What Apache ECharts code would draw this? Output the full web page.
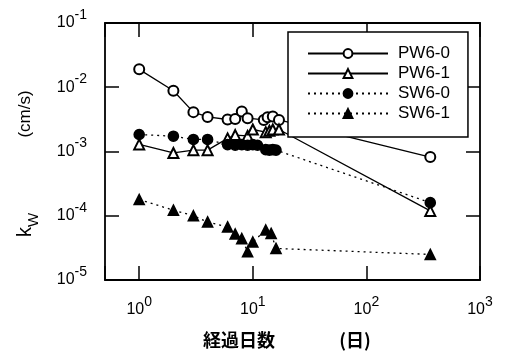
<!DOCTYPE html>
<html>
<head>
<meta charset="utf-8">
<script src="https://cdn.jsdelivr.net/npm/echarts@6/dist/echarts.min.js"></script>
<style>
  html, body { margin: 0; padding: 0; background: #fff; }
  #chart { width: 505px; height: 355px; }
</style>
</head>
<body>
<div id="chart"></div>
<script>
// Elapsed days and permeability coefficient kw (cm/s) for each specimen
const daysPW60 = [1, 2, 3, 4, 6, 7, 8, 9, 12.5, 13.5, 15, 17, 365];
const kwPW60   = [0.019, 0.0088, 0.0041, 0.00345, 0.00315, 0.0032, 0.0042, 0.0033, 0.0031, 0.0034, 0.0035, 0.0031, 0.00082];

const daysPW61 = [1, 2, 3, 4, 6, 7, 9, 10, 13, 14, 15, 17, 365];
const kwPW61   = [0.00129, 0.00095, 0.00105, 0.00105, 0.0016, 0.0018, 0.00175, 0.0022, 0.002, 0.0021, 0.0022, 0.0022, 0.000119];

const daysSW60 = [1, 2, 3, 4, 6, 7, 8, 9, 10, 11, 13, 14, 15, 16, 365];
const kwSW60   = [0.00184, 0.00173, 0.00154, 0.00154, 0.00128, 0.00125, 0.00128, 0.00125, 0.00128, 0.00125, 0.00107, 0.00105, 0.00107, 0.00105, 0.00016];

const daysSW61 = [1, 2, 3, 4, 6, 7, 8, 9, 10, 13, 14.5, 16, 365];
const kwSW61   = [1.79e-4, 1.22e-4, 1.0e-4, 8.0e-5, 6.7e-5, 5.2e-5, 4.4e-5, 2.75e-5, 3.9e-5, 6.0e-5, 5.3e-5, 3.1e-5, 2.5e-5];

const seriesNames = ['PW6-0', 'PW6-1', 'SW6-0', 'SW6-1'];
const xTitle = '経過日数';
const xUnit = '(日)';
const yUnit = '(cm/s)';

const pairs = (xs, ys) => xs.map((x, i) => [x, ys[i]]);

// power-of-ten tick label: "10" with a raised exponent
function powLabel(v) {
  const e = Math.log10(v);
  if (Math.abs(e - Math.round(e)) > 1e-6) return '';
  return '{b|10}{e|' + Math.round(e) + '}';
}
const powRich = {
  b: { fontSize: 16, fontFamily: 'Liberation Sans', color: '#000', lineHeight: 30 },
  e: { fontSize: 14, fontFamily: 'Liberation Sans', color: '#000', lineHeight: 14, verticalAlign: 'top' }
};

const axisLine = { show: true, lineStyle: { color: '#000', width: 1.8 } };
const tickIn = { show: true, inside: true, length: 14, lineStyle: { color: '#000', width: 1.5 } };

const solid = { color: '#000', width: 1.3, type: 'solid' };
const dotted = { color: '#000', width: 1.3, type: [2, 4] };

function mk(name, data, symbol, lineStyle) {
  return {
    name, type: 'line', data, symbol, symbolSize: 10,
    showSymbol: true,
    lineStyle,
    itemStyle: { color: '#000', borderColor: '#000', borderWidth: 1.6 },
    emphasis: { disabled: true },
    animation: false
  };
}

const chart = echarts.init(document.getElementById('chart'), null, { renderer: 'canvas' });
chart.setOption({
  backgroundColor: '#fff',
  animation: false,
  grid: { left: 105, right: 25, top: 23, bottom: 75 },
  xAxis: [
    {
      type: 'log', logBase: 10, min: 0.5, max: 1000,
      axisLine, axisTick: tickIn,
      axisLabel: { formatter: powLabel, rich: powRich, margin: 15, showMinLabel: true },
      splitLine: { show: false }
    },
    {
      type: 'log', logBase: 10, min: 0.5, max: 1000, position: 'top',
      axisLine, axisTick: tickIn, axisLabel: { show: false }, splitLine: { show: false }
    }
  ],
  yAxis: [
    {
      type: 'log', logBase: 10, min: 1e-5, max: 1e-1,
      axisLine, axisTick: tickIn,
      axisLabel: { formatter: powLabel, rich: powRich, margin: 18 },
      splitLine: { show: false }
    },
    {
      type: 'log', logBase: 10, min: 1e-5, max: 1e-1, position: 'right',
      axisLine, axisTick: tickIn, axisLabel: { show: false }, splitLine: { show: false }
    }
  ],
  legend: {
    data: seriesNames,
    orient: 'vertical',
    left: 288, top: 32,
    padding: [13, 18, 15, 19],
    itemWidth: 80, itemHeight: 11, itemGap: 3,
    backgroundColor: '#fff',
    borderColor: '#000', borderWidth: 1.5,
    textStyle: { fontSize: 17, fontFamily: 'Liberation Sans', color: '#000', padding: [0, 0, 0, 5], lineHeight: 16 },
    selectedMode: false
  },
  series: [
    mk(seriesNames[0], pairs(daysPW60, kwPW60), 'emptyCircle', solid),
    mk(seriesNames[1], pairs(daysPW61, kwPW61), 'emptyTriangle', solid),
    mk(seriesNames[2], pairs(daysSW60, kwSW60), 'circle', dotted),
    mk(seriesNames[3], pairs(daysSW61, kwSW61), 'triangle', dotted)
  ],
  graphic: [
    {
      type: 'text', x: 25, y: 114, rotation: Math.PI / 2,
      style: { text: yUnit, font: '17px "Liberation Sans"', fill: '#000', align: 'center', verticalAlign: 'middle' }
    },
    {
      type: 'text', x: 28, y: 225, rotation: Math.PI / 2,
      style: {
        text: '{k|k}{w|W}', align: 'center', verticalAlign: 'middle',
        rich: {
          k: { fontSize: 20, fontFamily: 'Liberation Sans', fill: '#000', lineHeight: 26, verticalAlign: 'top' },
          w: { fontSize: 15, fontFamily: 'Liberation Sans', fill: '#000', lineHeight: 14, verticalAlign: 'bottom' }
        }
      }
    },
    {
      type: 'text', x: 239, y: 340,
      style: { text: xTitle, font: 'bold 18px "Noto Sans CJK JP"', fill: '#000', align: 'center', verticalAlign: 'middle' }
    },
    {
      type: 'text', x: 355, y: 340,
      style: { text: xUnit, font: 'bold 18px "Noto Sans CJK JP"', fill: '#000', align: 'center', verticalAlign: 'middle' }
    }
  ]
});
</script>
</body>
</html>
